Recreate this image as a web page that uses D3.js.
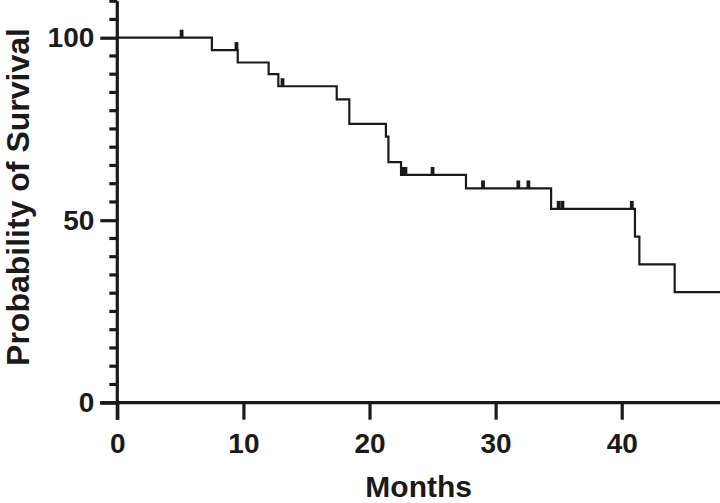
<!DOCTYPE html>
<html>
<head>
<meta charset="utf-8">
<script src="https://cdn.jsdelivr.net/npm/d3@7"></script>
<style>
  html, body { margin: 0; padding: 0; background: #fff; }
  svg { display: block; }
  text { font-family: "Liberation Sans", Arial, Helvetica, sans-serif; font-weight: bold; fill: #1a1a1a; }
</style>
</head>
<body>
<svg id="chart" width="720" height="503"></svg>
<script>
// ---- data ----
const eventTimes     = [0, 7.5, 9.55, 12.0, 12.77, 17.4, 18.4, 21.3, 21.5, 22.5, 27.65, 34.4, 41.05, 41.4, 44.2, 48];
const survivalValues = [100, 96.6, 93.2, 90.0, 86.7, 83.1, 76.4, 72.9, 65.9, 62.4, 58.7, 53.1, 45.5, 37.9, 30.3, 30.3];
const censorTimes    = [5.1, 9.45, 13.1, 22.6, 22.85, 25.0, 29.0, 31.8, 32.6, 35.0, 35.3, 40.8];
const xTicks = [0, 10, 20, 30, 40];
const yTicks = [0, 50, 100];
const yMinorTicks = [5,10,15,20,25,30,35,40,45,55,60,65,70,75,80,85,90,95,105,110];
const xLabel = "Months";
const yLabel = "Probability of Survival";

const ink = "#1a1a1a";
const svg = d3.select("#chart");

const x = d3.scaleLinear().domain([0, 48]).range([117.3, 722.6]);
const y = d3.scaleLinear().domain([0, 100]).range([402.7, 37.7]);

const points = eventTimes.map((t, i) => ({ t, s: survivalValues[i] }));

function survivalAt(t) {
  let s = survivalValues[0];
  for (let i = 0; i < eventTimes.length; i++) {
    if (eventTimes[i] <= t) s = survivalValues[i];
  }
  return s;
}

// ---- axes ----
const xAxisG = svg.append("g")
  .attr("transform", `translate(0,${y(0)})`)
  .call(d3.axisBottom(x).tickValues(xTicks).tickSize(17).tickPadding(13).tickSizeOuter(0).tickFormat(d3.format("d")));
xAxisG.select(".domain").attr("d", `M${x(0) - 17},0H720`);

const yAxisG = svg.append("g")
  .attr("transform", `translate(${x(0)},0)`)
  .call(d3.axisLeft(y).tickValues(yTicks).tickSize(17).tickPadding(6).tickSizeOuter(0).tickFormat(d3.format("d")));
yAxisG.select(".domain").attr("d", `M0,${y(110)}V${y(0) + 17}`);

// minor ticks on the y axis
svg.append("g").attr("class", "minor")
  .selectAll("line")
  .data(yMinorTicks)
  .join("line")
  .attr("x1", x(0) - 8)
  .attr("x2", x(0))
  .attr("y1", d => y(d))
  .attr("y2", d => y(d));

svg.selectAll(".domain, .tick line, .minor line")
  .attr("stroke", ink).attr("stroke-width", 3.2).attr("stroke-linecap", "butt");
svg.selectAll(".tick text")
  .attr("fill", ink)
  .style("font-size", "28px")
  .style("font-family", '"Liberation Sans", Arial, sans-serif')
  .style("font-weight", "bold");

// ---- survival curve ----
const line = d3.line().x(d => x(d.t)).y(d => y(d.s)).curve(d3.curveStepAfter);
svg.append("path")
  .datum(points)
  .attr("fill", "none")
  .attr("stroke", ink)
  .attr("stroke-width", 2.2)
  .attr("d", line);

// ---- censor marks ----
svg.append("g").selectAll("line")
  .data(censorTimes)
  .join("line")
  .attr("x1", d => x(d)).attr("x2", d => x(d))
  .attr("y1", d => y(survivalAt(d)))
  .attr("y2", d => y(survivalAt(d)) - 8)
  .attr("stroke", ink)
  .attr("stroke-width", 3.8);

// ---- axis titles ----
svg.append("text")
  .attr("x", (117.3 + 720) / 2)
  .attr("y", 497)
  .attr("text-anchor", "middle")
  .style("font-size", "30px")
  .text(xLabel);

svg.append("text")
  .attr("transform", `translate(29,197) rotate(-90)`)
  .attr("text-anchor", "middle")
  .style("font-size", "32px")
  .text(yLabel);
</script>
</body>
</html>
